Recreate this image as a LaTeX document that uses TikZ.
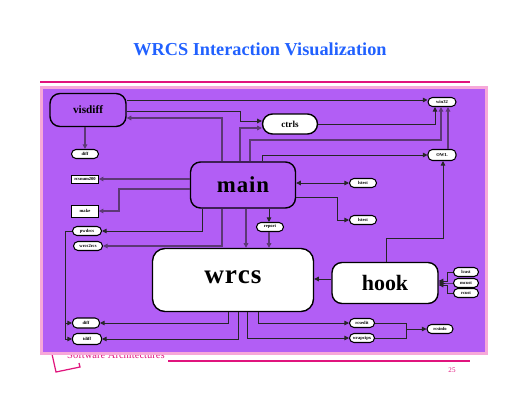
\documentclass[tikz,border=0pt]{standalone}
\usepackage{fontspec}
\setmainfont{Liberation Serif}
\usetikzlibrary{arrows.meta, calc}
\definecolor{bgpurple}{rgb}{0.70,0.37,0.96}
\definecolor{framepink}{rgb}{0.97,0.66,0.85}
\definecolor{linemag}{rgb}{0.88,0.08,0.49}
\definecolor{titleblue}{rgb}{0.13,0.38,1.0}
\definecolor{edgepurple}{rgb}{0.36,0.22,0.46}

\begin{document}
\begin{tikzpicture}[
    x=0.02cm, y=-0.02cm,
    bigbox/.style={
        draw=black,
        line width=0.8pt,
        fill=white,
        rounded corners=0.2cm,
        inner sep=0pt,
        font=\bfseries,
    },
    pill/.style={
        draw=black,
        line width=0.6pt,
        fill=white,
        rounded corners=0.09cm,
        minimum width=0.54cm,
        minimum height=0.18cm,
        inner sep=0pt,
        font=\fontsize{2.6}{3}\selectfont\bfseries,
    },
    sqbox/.style={pill, rounded corners=0pt, line width=0.45pt},
    thn/.style={line width=0.5pt, color=black!85},
    thk/.style={line width=1.1pt, color=edgepurple},
    tip/.style={-{Triangle[length=2.6pt,width=2.6pt]}}
]
\useasboundingbox (0,0) rectangle (520,402);

% heading and page trim
\node[font=\fontsize{10.4}{12}\selectfont\bfseries, text=titleblue] (title) at (260,49) {WRCS Interaction Visualization};
\draw[linemag, line width=1.2pt] (40,82) -- (470,82);
\node[font=\fontsize{6}{7}\selectfont, text=linemag, anchor=west] (foot) at (61,354.5) {Software Architectures};
\draw[linemag, line width=0.7pt] (52,354) -- (56,372) -- (80,367) -- (79,363);
\draw[linemag, line width=1.2pt] (168,361) -- (470,361);
\node[font=\fontsize{4}{5}\selectfont, text=linemag] (page) at (452,370) {25};

% panel
\draw[draw=framepink, fill=bgpurple, line width=1.8pt] (41.5,87.5) rectangle (486.5,353.5);

% large modules
\node[bigbox, fill=bgpurple, minimum width=1.52cm, minimum height=0.66cm, font=\fontsize{6.4}{7}\selectfont\bfseries] (visdiff) at (88,110) {visdiff};
\node[bigbox, minimum width=1.1cm, minimum height=0.4cm, rounded corners=0.2cm, font=\fontsize{5.2}{6}\selectfont\bfseries] (ctrls) at (290,124) {ctrls};
\node[bigbox, fill=bgpurple, minimum width=2.1cm, minimum height=0.92cm, font=\fontsize{13}{14}\selectfont\bfseries] (main) at (243,185) {m\kern0.5pt a\kern0.5pt i\kern0.5pt n};
\node[bigbox, minimum width=3.22cm, minimum height=1.26cm, rounded corners=0.25cm, font=\fontsize{15.5}{18}\selectfont\bfseries] (wrcs) at (233,280) {\raisebox{3pt}{w\kern0.5pt r\kern0.5pt c\kern0.5pt s}};
\node[bigbox, minimum width=2.12cm, minimum height=0.82cm, font=\fontsize{12.5}{14}\selectfont\bfseries] (hook) at (385,283) {hook};

% small modules
\node[pill] (diff) at (85,154) {diff};
\node[sqbox, minimum height=0.16cm] (rcsnum) at (85,179) {rcsnum200};
\node[sqbox, minimum height=0.24cm] (make) at (85,211) {make};
\node[pill, minimum width=0.58cm] (pwdrcs) at (87,231) {pwdrcs};
\node[pill, minimum width=0.58cm] (wrcsrcs) at (88,246) {wrcs2rcs};
\node[pill] (report) at (270,227) {report};
\node[pill, minimum width=0.56cm] (win) at (442,102) {win32};
\node[pill, minimum width=0.56cm, minimum height=0.22cm] (owl) at (442,155) {OWL};
\node[pill] (lstestA) at (363,183) {lstest};
\node[pill] (lstestB) at (363,220) {lstest};
\node[pill, minimum width=0.5cm] (lcust) at (466,272) {lcust};
\node[pill, minimum width=0.5cm] (mcust) at (466,283) {mcust};
\node[pill, minimum width=0.5cm] (rcust) at (466,293) {rcust};
\node[pill, minimum width=0.54cm, minimum height=0.2cm] (diffb) at (86,323) {diff};
\node[pill, minimum width=0.58cm, minimum height=0.22cm] (tdiff) at (87,339) {tdiff};
\node[pill, minimum width=0.5cm] (rcsedit) at (362,323) {rcsedit};
\node[pill, minimum width=0.5cm] (wrapcipx) at (362,338) {wrapcipx};
\node[pill, minimum width=0.52cm] (rcsinfo) at (440,329) {rcsinfo};

% connectors from visdiff
\draw[thk, tip] (visdiff.south -| 85,0) -- (diff);
\draw[thn, tip] (visdiff.east |- 0,111) -| (240,121) -- (ctrls.west |- 0,121);
\draw[thn, tip] (visdiff.east |- 0,100) -- (win.west |- 0,100);

% connectors from main, upward
\draw[thk, tip] (main.north -| 222,0) |- (visdiff.east |- 0,118);
\draw[thk, tip] (main.north -| 240,0) |- (ctrls.west |- 0,128);
\draw[thk, tip] (main.north -| 250,0) |- (441,140) -- (win.south -| 441,0);
\draw[thn, tip] (main.north -| 262,0) |- (owl.west);
\draw[thk, tip] (owl.north -| 448,0) -- (win.south -| 448,0);
\draw[thn, tip] (ctrls.east) -| (win.south -| 435,0);

% connectors from main, sideways
\draw[thn, {Triangle[length=2.6pt,width=2.6pt]}-{Triangle[length=2.6pt,width=2.6pt]}] (main.east |- lstestA) -- (lstestA);
\draw[thn, tip] (main.east |- 0,197) -| (337,220) -- (lstestB);
\draw[thk, tip] (main.west |- rcsnum) -- (rcsnum);
\draw[thk, tip] (main.west |- 0,189) -| (119,211) -- (make);

% connectors from main, downward
\draw[thn, tip] (main.south -| 202,0) |- (pwdrcs);
\draw[thk, tip] (main.south -| 222,0) |- (wrcsrcs);
\draw[thk, tip] (main.south -| 246,0) -- (wrcs.north -| 246,0);
\draw[thn, tip] (main.south -| 269,0) -- (report.north -| 269,0);
\draw[thk, tip] (report.south -| 269,0) -- (wrcs.north -| 269,0);

% hook
\draw[thn, tip] (hook.west |- 0,279) -- (wrcs.east |- 0,279);
\draw[thn, tip] (hook.north -| 386,0) |- (443,238) -- (owl.south -| 443,0);
\draw[thn, tip] (lcust.west) -| (447,281) -- (hook.east |- 0,281);
\draw[thn, tip] (mcust.west) -- (447,283) -- (hook.east |- 0,283);
\draw[thn, tip] (rcust.west) -| (447,285) -- (hook.east |- 0,285);

% connectors from wrcs, downward
\draw[thn, tip] (wrcs.south -| 228,0) |- (diffb);
\draw[thn, tip] (wrcs.south -| 238,0) |- (tdiff);
\draw[thn, tip] (wrcs.south -| 258,0) |- (rcsedit);
\draw[thn, tip] (wrcs.south -| 247,0) |- (wrapcipx);
\coordinate (lft) at (65,231);
\draw[thn, tip] (pwdrcs.west) -- (lft) |- (diffb);
\draw[thn, tip] (lft) |- (tdiff);
\coordinate (jn) at (406,329);
\draw[thn] (rcsedit.east) -| (jn);
\draw[thn] (wrapcipx.east) -| (jn);
\draw[thn, tip] (jn) -- (rcsinfo);
\end{tikzpicture}
\end{document}
